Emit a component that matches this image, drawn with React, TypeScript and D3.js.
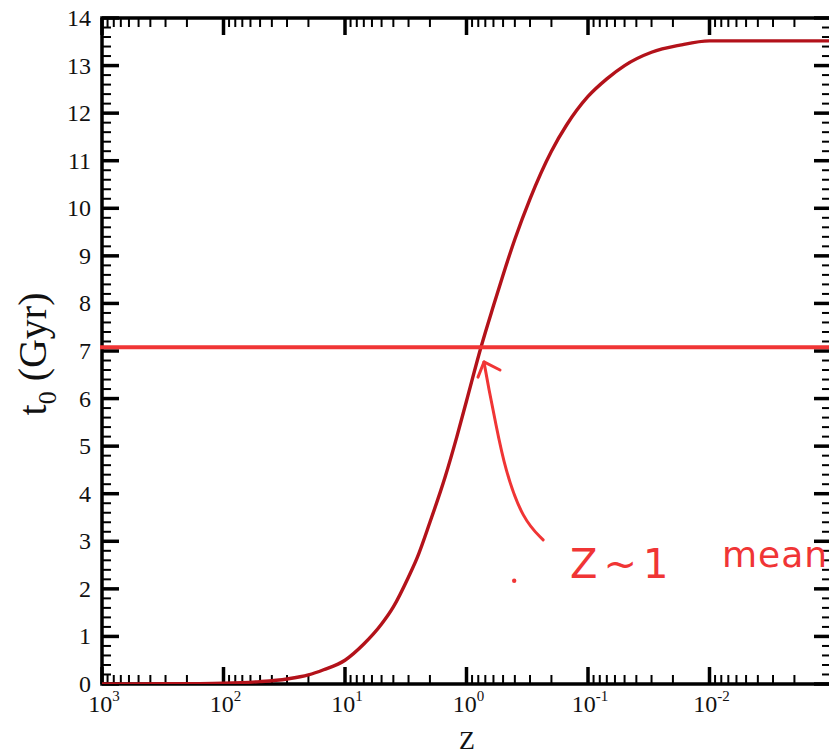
import React from "react";
import * as d3 from "d3";

// Age of the universe t0 (Gyr) versus redshift z
const zVals = [1000, 300, 100, 50, 30, 20, 15, 10, 7, 5, 4, 3, 2.55, 2, 1.5, 1.2, 1, 0.76, 0.6, 0.5, 0.4, 0.3, 0.2, 0.15, 0.1, 0.07, 0.05, 0.03, 0.0175, 0.01, 0.001];
const tVals = [0, 0.004, 0.018, 0.05, 0.105, 0.19, 0.3, 0.5, 0.84, 1.26, 1.62, 2.25, 2.65, 3.4, 4.35, 5.2, 5.95, 7.08, 7.95, 8.6, 9.35, 10.2, 11.2, 11.75, 12.35, 12.72, 13.0, 13.28, 13.43, 13.52, 13.52];

// horizontal reference line
const refT = 7.08;

// x tick decades (exponents) and y ticks
const xDecades = [3, 2, 1, 0, -1, -2];
const yTicks = [0, 1, 2, 3, 4, 5, 6, 7, 8, 9, 10, 11, 12, 13, 14];

// hand-drawn annotation (in data space z, t)
const arrowZ = [0.234, 0.343, 0.482, 0.582, 0.653, 0.718];
const arrowT = [3.03, 3.45, 4.5, 5.55, 6.18, 6.77];
const headZ = [0.804, 0.718, 0.53];
const headT = [6.45, 6.77, 6.6];
const noteText1 = "Z~1";
const noteText2 = "means";

const W = 829;
const H = 754;
const left = 102;
const right = 831;
const top = 18;
const bottom = 684;

export default function App() {
  const x = d3.scaleLog().domain([1e3, 1e-3]).range([left, right]);
  const y = d3.scaleLinear().domain([0, 14]).range([bottom, top]);

  const pts: [number, number][] = zVals.map((z, i) => [x(z), y(tVals[i])]);
  const line = d3.line().curve(d3.curveMonotoneX)(pts) || "";

  const arrowPts: [number, number][] = arrowZ.map((z, i) => [x(z), y(arrowT[i])]);
  const arrowPath = d3.line().curve(d3.curveBasis)(arrowPts) || "";
  const headPts: [number, number][] = headZ.map((z, i) => [x(z), y(headT[i])]);
  const headPath = d3.line()(headPts) || "";

  // minor x ticks
  const xMinor: number[] = [];
  for (let e = -3; e < 3; e++) {
    for (let m = 2; m <= 9; m++) xMinor.push(m * Math.pow(10, e));
  }
  const yMinor: number[] = [];
  for (let v = 0; v < 14; v++) for (let k = 1; k < 5; k++) yMinor.push(v + k * 0.2);

  const red = "#f03535";
  const curveColor = "#b3121a";
  const serif = "'Liberation Serif', 'Times New Roman', serif";

  return (
    <svg width={W} height={H} style={{ position: "absolute", left: 0, top: 0, background: "#fff" }}>
      <defs>
        <clipPath id="plot">
          <rect x={left} y={top - 2} width={right - left} height={bottom - top + 2} />
        </clipPath>
      </defs>

      {/* minor x ticks bottom & top */}
      {xMinor.map((v, i) => (
        <g key={"xm" + i}>
          <line x1={x(v)} x2={x(v)} y1={bottom} y2={bottom - 9} stroke="#000" strokeWidth={2} />
          <line x1={x(v)} x2={x(v)} y1={top} y2={top + 9} stroke="#000" strokeWidth={2} />
        </g>
      ))}
      {/* major x ticks */}
      {xDecades.map((e) => (
        <g key={"xM" + e}>
          <line x1={x(Math.pow(10, e))} x2={x(Math.pow(10, e))} y1={bottom} y2={bottom - 17} stroke="#000" strokeWidth={3.5} />
          <line x1={x(Math.pow(10, e))} x2={x(Math.pow(10, e))} y1={top} y2={top + 17} stroke="#000" strokeWidth={3.5} />
          <text x={x(Math.pow(10, e)) + 2} y={712} textAnchor="middle" fontFamily={serif} fontSize={24} fill="#111">
            10
            <tspan fontSize={15} dy={-11}>{String(e)}</tspan>
          </text>
        </g>
      ))}
      {/* minor y ticks */}
      {yMinor.map((v, i) => (
        <g key={"ym" + i}>
          <line x1={left} x2={left + 9} y1={y(v)} y2={y(v)} stroke="#000" strokeWidth={2} />
          <line x1={right} x2={right - 9} y1={y(v)} y2={y(v)} stroke="#000" strokeWidth={2} />
        </g>
      ))}
      {/* major y ticks */}
      {yTicks.map((v) => (
        <g key={"yM" + v}>
          <line x1={left} x2={left + 17} y1={y(v)} y2={y(v)} stroke="#000" strokeWidth={3.5} />
          <line x1={right} x2={right - 17} y1={y(v)} y2={y(v)} stroke="#000" strokeWidth={3.5} />
          <text x={91} y={y(v) + 8} textAnchor="end" fontFamily={serif} fontSize={24} fill="#111">
            {v}
          </text>
        </g>
      ))}

      {/* frame */}
      <rect x={left} y={top} width={right - left} height={bottom - top} fill="none" stroke="#000" strokeWidth={3.5} />

      {/* curve */}
      <path d={line} fill="none" stroke={curveColor} strokeWidth={3.4} clipPath="url(#plot)" />

      {/* horizontal reference line */}
      <line x1={left - 2} x2={W} y1={y(refT)} y2={y(refT)} stroke={red} strokeWidth={4} />

      {/* annotation */}
      <path d={arrowPath} fill="none" stroke={red} strokeWidth={3} strokeLinecap="round" />
      <path d={headPath} fill="none" stroke={red} strokeWidth={3} strokeLinecap="round" strokeLinejoin="round" />
      <circle cx={x(0.405)} cy={y(2.17)} r={2.2} fill={red} />
      <text x={x(0.1406)} y={y(2.23)} fontFamily="'DejaVu Sans', sans-serif" fontSize={40} fill={red} letterSpacing={6}>
        {noteText1}
      </text>
      <text x={x(0.0079)} y={y(2.45)} fontFamily="'DejaVu Sans', sans-serif" fontSize={36} fill={red} letterSpacing={1}>
        {noteText2}
      </text>

      {/* axis titles */}
      <text x={467} y={749} textAnchor="middle" fontFamily={serif} fontSize={26} fill="#111">
        Z
      </text>
      <text transform={`translate(46,354) rotate(-90)`} textAnchor="middle" fontFamily={serif} fontSize={40} fill="#111">
        t<tspan fontSize={26} dy={10}>0</tspan>
        <tspan dy={-10}>{"  (Gyr)"}</tspan>
      </text>
    </svg>
  );
}
